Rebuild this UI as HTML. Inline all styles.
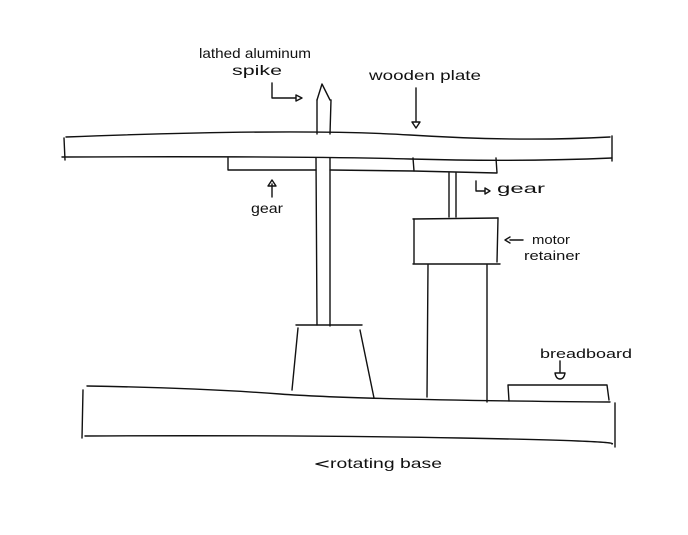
<!DOCTYPE html>
<html><head><meta charset="utf-8"><style>
html,body{margin:0;padding:0;background:#fff;}
svg{display:block}
text{font-family:"Liberation Sans",sans-serif;font-size:14px;fill:#111;}
</style></head><body>
<svg width="688" height="535" viewBox="0 0 688 535" xmlns="http://www.w3.org/2000/svg">
<g fill="none" stroke="#111" stroke-width="1.4" stroke-linecap="round" stroke-linejoin="round">
<path d="M66 137 Q300 128 410 135 T610 137"/>
<path d="M62 157 Q300 156 410 159 T612 158"/>
<path d="M64 138 L65 160"/>
<path d="M612 136 L612 161"/>
<path d="M316 158 L317 325"/>
<path d="M330 158 L330 326"/>
<path d="M317 134 L317 100"/>
<path d="M330 134 L331 100"/>
<path d="M317 100 L322 84 L330 100"/>
<path d="M228 158 L228 170 L316 170"/>
<path d="M330 170 L413 171 L497 173 L496 158"/>
<path d="M413 158 L414 171"/>
<path d="M449 173 L449 217"/>
<path d="M456 173 L456 217"/>
<path d="M413 219 L498 218"/>
<path d="M414 219 L414 263"/>
<path d="M498 218 L497 262"/>
<path d="M413 264 L500 264"/>
<path d="M428 265 L427 397"/>
<path d="M487 265 L487 402"/>
<path d="M296 325 L362 325"/>
<path d="M298 328 L292 390"/>
<path d="M360 330 L374 398"/>
<path d="M87 386 Q200 388 280 394 T610 402"/>
<path d="M85 436 Q300 435 460 438 T612 444"/>
<path d="M83 390 L82 438"/>
<path d="M615 403 L615 447"/>
<path d="M509 401 L508 385 L607 385 L609 400"/>
<path d="M272 83 L272 98 L296 98"/>
<path d="M296 95 L302 98 L296 101 Z"/>
<path d="M416 88 L416 121"/>
<path d="M412 122 L420 122 L416 128 Z"/>
<path d="M272 197 L272 184"/>
<path d="M268 186 L272 180 L276 186 Z"/>
<path d="M476 181 L476 191 L485 191"/>
<path d="M485 188 L490 191 L485 194 Z"/>
<path d="M523 240 L510 240"/>
<path d="M510 237 L505 240 L510 243"/>
<path d="M560 361 L560 372"/>
<path d="M555 373 L565 373 Q564 379 560 379 Q556 379 555 373 Z"/>
<path d="M328 461 L316 464 L328 467"/>
</g>
<text x="199" y="58" textLength="112" lengthAdjust="spacingAndGlyphs">lathed aluminum</text>
<text x="232" y="75" textLength="50" lengthAdjust="spacingAndGlyphs">spike</text>
<text x="369" y="80" textLength="112" lengthAdjust="spacingAndGlyphs">wooden plate</text>
<text x="251" y="213" textLength="32" lengthAdjust="spacingAndGlyphs">gear</text>
<text x="497" y="193" textLength="48" lengthAdjust="spacingAndGlyphs">gear</text>
<text x="532" y="244" textLength="38" lengthAdjust="spacingAndGlyphs" style="font-size:13px">motor</text>
<text x="524" y="260" textLength="56" lengthAdjust="spacingAndGlyphs" style="font-size:13px">retainer</text>
<text x="540" y="358" textLength="92" lengthAdjust="spacingAndGlyphs" style="font-size:13px">breadboard</text>
<text x="330" y="468" textLength="112" lengthAdjust="spacingAndGlyphs">rotating base</text>
</svg>
</body></html>
